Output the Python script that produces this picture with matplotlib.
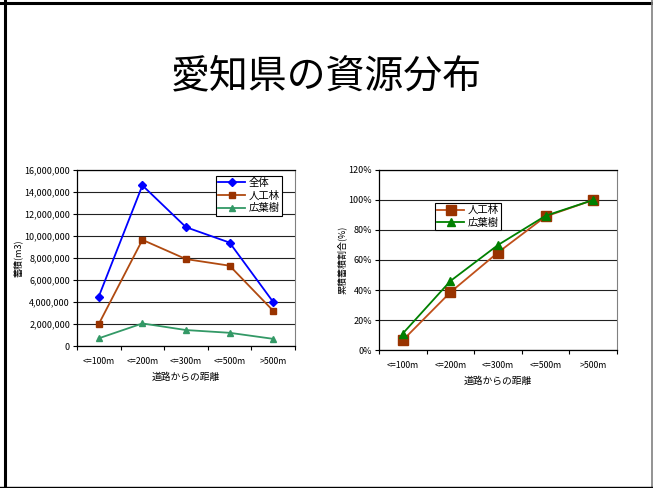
import matplotlib
matplotlib.use("Agg")
import matplotlib.pyplot as plt
from matplotlib.lines import Line2D
from matplotlib.ticker import FuncFormatter, MultipleLocator
import numpy as np

plt.rcParams["font.family"] = ["Noto Sans CJK JP", "DejaVu Sans"]

distances = ["<=100m", "<=200m", "<=300m", "<=500m", ">500m"]

# 蓄積 (m3)
total_volume = [4_500_000, 14_600_000, 10_800_000, 9_400_000, 4_000_000]
planted_volume = [2_000_000, 9_650_000, 7_900_000, 7_300_000, 3_200_000]
broadleaf_volume = [700_000, 2_050_000, 1_450_000, 1_200_000, 650_000]

# 累積蓄積割合 (%)
planted_cum = [6.5, 38.5, 65.0, 89.0, 100.0]
broadleaf_cum = [11.0, 46.0, 70.0, 89.5, 100.0]

W, H = 653, 488
fig = plt.figure(figsize=(W / 100, H / 100), dpi=100)


def px_axes(x0, y0, x1, y1):
    return fig.add_axes([x0 / W, 1 - y1 / H, (x1 - x0) / W, (y1 - y0) / H])


def style_axes(ax):
    n = len(distances)
    x = np.arange(n)
    ax.set_xlim(-0.5, n - 0.5)
    ax.set_xticks(np.arange(-0.5, n, 1.0))
    ax.set_xticklabels([])
    ax.set_xticks(x, minor=True)
    ax.set_xticklabels(distances, minor=True, fontsize=6.3)
    ax.tick_params(axis="x", which="major", length=3, direction="out", width=0.8)
    ax.tick_params(axis="x", which="minor", length=0, pad=8)
    ax.tick_params(axis="y", length=3, direction="out", width=0.8, labelsize=6.5, pad=2)
    ax.grid(axis="y", color="#222222", linewidth=0.8)
    ax.set_axisbelow(True)
    for side in ("left", "bottom", "top"):
        ax.spines[side].set_color("black")
        ax.spines[side].set_linewidth(0.9)
    ax.spines["right"].set_color("#808080")
    ax.set_xlabel("道路からの距離", fontsize=7, labelpad=4)
    return x


def add_legend(ax, x0, y0):
    leg = ax.legend(loc="upper left", bbox_to_anchor=(x0 / W, 1 - y0 / H),
                    bbox_transform=fig.transFigure, fontsize=7.5, frameon=True,
                    fancybox=False, edgecolor="black", framealpha=1,
                    borderpad=0.2, labelspacing=0.25, handlelength=2.6,
                    handletextpad=0.3, borderaxespad=0)
    leg.get_frame().set_linewidth(0.8)
    return leg


# left: volume by distance
ax1 = px_axes(77, 170, 295, 346)
x = style_axes(ax1)
ax1.set_ylim(0, 16_000_000)
ax1.yaxis.set_major_locator(MultipleLocator(2_000_000))
ax1.yaxis.set_major_formatter(FuncFormatter(lambda v, _: f"{int(v):,}"))
ax1.plot(x, total_volume, color="#0000FF", marker="D", markersize=4, linewidth=1.3, label="全体")
ax1.plot(x, planted_volume, color="#B04A10", marker="s", markerfacecolor="#993300",
         markeredgecolor="#993300", markersize=5, linewidth=1.3, label="人工林")
ax1.plot(x, broadleaf_volume, color="#339966", marker="^", markersize=5, linewidth=1.3, label="広葉樹")
ax1.set_ylabel("蓄積(m3)", fontsize=6.5)
ax1.yaxis.set_label_coords(-0.25, 0.5)
add_legend(ax1, 216, 176)

# right: cumulative share
ax2 = px_axes(379, 170, 617, 350)
x = style_axes(ax2)
ax2.set_ylim(0, 120)
ax2.yaxis.set_major_locator(MultipleLocator(20))
ax2.yaxis.set_major_formatter(FuncFormatter(lambda v, _: f"{int(v)}%"))
ax2.plot(x, planted_cum, color="#C0501A", marker="s", markerfacecolor="#993300",
         markeredgecolor="#993300", markersize=7, linewidth=1.3, label="人工林")
ax2.plot(x, broadleaf_cum, color="#008000", marker="^", markersize=6, linewidth=1.3, label="広葉樹")
ax2.set_ylabel("累積蓄積割合(%)", fontsize=6.5)
ax2.yaxis.set_label_coords(-0.135, 0.5)
add_legend(ax2, 435, 203)

fig.text(0.5, 1 - 76 / H, "愛知県の資源分布", ha="center", va="center", fontsize=28)

# slide frame
fig.add_artist(Line2D([5 / W, 5 / W], [0, 1], color="black", linewidth=2.2, transform=fig.transFigure))
fig.add_artist(Line2D([0, 1], [1 - 3 / H, 1 - 3 / H], color="black", linewidth=2.2, transform=fig.transFigure))
fig.add_artist(Line2D([652 / W, 652 / W], [0, 1], color="#808080", linewidth=1.2, transform=fig.transFigure))
fig.add_artist(Line2D([0, 1], [1 - 486.5 / H, 1 - 486.5 / H], color="black", linewidth=1.0, transform=fig.transFigure))

fig.savefig("out.png", dpi=100)
